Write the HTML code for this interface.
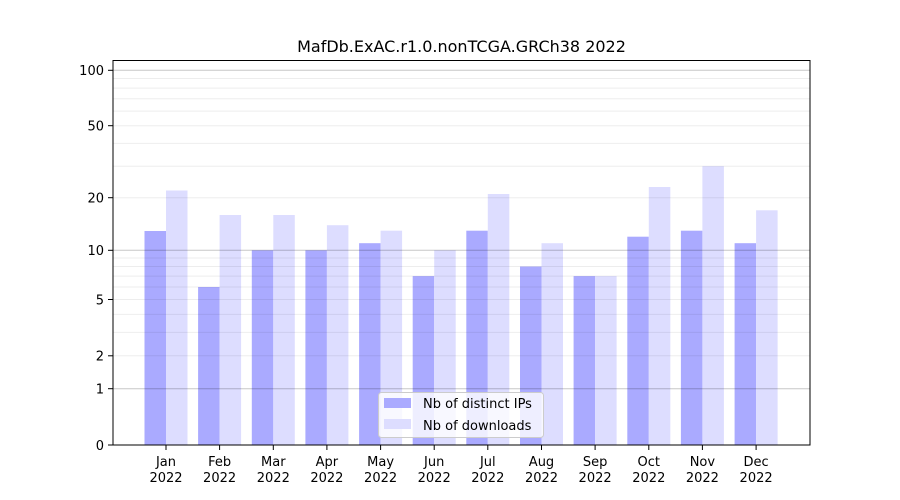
<!DOCTYPE html>
<html><head><meta charset="utf-8"><style>body{margin:0;background:#fff}svg{display:block}text{font-family:"DejaVu Sans","Liberation Sans",sans-serif;fill:#000}</style></head>
<body>
<svg width="900" height="500" viewBox="0 0 900 500" xmlns="http://www.w3.org/2000/svg">
<rect width="900" height="500" fill="#fff"/>
<text x="461.5" y="52" font-size="16" text-anchor="middle">MafDb.ExAC.r1.0.nonTCGA.GRCh38 2022</text>
<!-- bars -->
<g>
<rect x="144.5" y="231" width="21.5" height="214" fill="#aaaaff"/><rect x="166" y="190.5" width="21.5" height="254.5" fill="#ddddff"/>
<rect x="198.1" y="287" width="21.5" height="158" fill="#aaaaff"/><rect x="219.6" y="215" width="21.5" height="230" fill="#ddddff"/>
<rect x="251.8" y="250.3" width="21.5" height="194.7" fill="#aaaaff"/><rect x="273.3" y="215" width="21.5" height="230" fill="#ddddff"/>
<rect x="305.4" y="250.3" width="21.5" height="194.7" fill="#aaaaff"/><rect x="326.9" y="225.2" width="21.5" height="219.8" fill="#ddddff"/>
<rect x="359.1" y="243.2" width="21.5" height="201.8" fill="#aaaaff"/><rect x="380.6" y="230.7" width="21.5" height="214.3" fill="#ddddff"/>
<rect x="412.7" y="276.1" width="21.5" height="168.9" fill="#aaaaff"/><rect x="434.2" y="250.3" width="21.5" height="194.7" fill="#ddddff"/>
<rect x="466.3" y="230.7" width="21.5" height="214.3" fill="#aaaaff"/><rect x="487.8" y="194" width="21.5" height="251" fill="#ddddff"/>
<rect x="520" y="266.5" width="21.5" height="178.5" fill="#aaaaff"/><rect x="541.5" y="243.2" width="21.5" height="201.8" fill="#ddddff"/>
<rect x="573.6" y="276.1" width="21.5" height="168.9" fill="#aaaaff"/><rect x="595.1" y="276.1" width="21.5" height="168.9" fill="#ddddff"/>
<rect x="627.3" y="236.7" width="21.5" height="208.3" fill="#aaaaff"/><rect x="648.8" y="187" width="21.5" height="258" fill="#ddddff"/>
<rect x="680.9" y="230.7" width="21.5" height="214.3" fill="#aaaaff"/><rect x="702.4" y="166.2" width="21.5" height="278.8" fill="#ddddff"/>
<rect x="734.6" y="243.2" width="21.5" height="201.8" fill="#aaaaff"/><rect x="756.1" y="210.3" width="21.5" height="234.7" fill="#ddddff"/>
</g>
<!-- grid -->
<g stroke="#000" stroke-opacity="0.07" stroke-width="1">
<line x1="113" x2="810" y1="355.8" y2="355.8"/><line x1="113" x2="810" y1="332.4" y2="332.4"/><line x1="113" x2="810" y1="314.4" y2="314.4"/><line x1="113" x2="810" y1="299.5" y2="299.5"/><line x1="113" x2="810" y1="287" y2="287"/><line x1="113" x2="810" y1="276.1" y2="276.1"/><line x1="113" x2="810" y1="266.5" y2="266.5"/><line x1="113" x2="810" y1="258" y2="258"/>
<line x1="113" x2="810" y1="197.7" y2="197.7"/><line x1="113" x2="810" y1="166.2" y2="166.2"/><line x1="113" x2="810" y1="143.4" y2="143.4"/><line x1="113" x2="810" y1="125.7" y2="125.7"/><line x1="113" x2="810" y1="111.1" y2="111.1"/><line x1="113" x2="810" y1="98.7" y2="98.7"/><line x1="113" x2="810" y1="88.1" y2="88.1"/><line x1="113" x2="810" y1="78.5" y2="78.5"/>
</g>
<g stroke="#000" stroke-opacity="0.22" stroke-width="1">
<line x1="113" x2="810" y1="388.7" y2="388.7"/><line x1="113" x2="810" y1="250.3" y2="250.3"/><line x1="113" x2="810" y1="70.3" y2="70.3"/>
</g>
<rect x="113" y="60.5" width="697" height="384.5" fill="none" stroke="#000" stroke-width="1"/>
<!-- y ticks -->
<g stroke="#000"><line x1="108" x2="113" y1="445" y2="445"/><line x1="108" x2="113" y1="388.7" y2="388.7"/><line x1="108" x2="113" y1="355.8" y2="355.8"/><line x1="108" x2="113" y1="299.5" y2="299.5"/><line x1="108" x2="113" y1="250.3" y2="250.3"/><line x1="108" x2="113" y1="197.7" y2="197.7"/><line x1="108" x2="113" y1="125.7" y2="125.7"/><line x1="108" x2="113" y1="70.3" y2="70.3"/></g>
<g font-size="13" text-anchor="end"><text x="104" y="450">0</text><text x="104" y="393.5">1</text><text x="104" y="360.5">2</text><text x="104" y="304.5">5</text><text x="104" y="255">10</text><text x="104" y="202.5">20</text><text x="104" y="130.5">50</text><text x="104" y="75">100</text></g>
<!-- x ticks -->
<g stroke="#000"><line x1="166" x2="166" y1="445" y2="450"/><line x1="219.6" x2="219.6" y1="445" y2="450"/><line x1="273.3" x2="273.3" y1="445" y2="450"/><line x1="326.9" x2="326.9" y1="445" y2="450"/><line x1="380.6" x2="380.6" y1="445" y2="450"/><line x1="434.2" x2="434.2" y1="445" y2="450"/><line x1="487.8" x2="487.8" y1="445" y2="450"/><line x1="541.5" x2="541.5" y1="445" y2="450"/><line x1="595.1" x2="595.1" y1="445" y2="450"/><line x1="648.8" x2="648.8" y1="445" y2="450"/><line x1="702.4" x2="702.4" y1="445" y2="450"/><line x1="756.1" x2="756.1" y1="445" y2="450"/></g>
<g font-size="13" text-anchor="middle">
<text x="166" y="466">Jan</text><text x="166" y="482">2022</text>
<text x="219.6" y="466">Feb</text><text x="219.6" y="482">2022</text>
<text x="273.3" y="466">Mar</text><text x="273.3" y="482">2022</text>
<text x="326.9" y="466">Apr</text><text x="326.9" y="482">2022</text>
<text x="380.6" y="466">May</text><text x="380.6" y="482">2022</text>
<text x="434.2" y="466">Jun</text><text x="434.2" y="482">2022</text>
<text x="487.8" y="466">Jul</text><text x="487.8" y="482">2022</text>
<text x="541.5" y="466">Aug</text><text x="541.5" y="482">2022</text>
<text x="595.1" y="466">Sep</text><text x="595.1" y="482">2022</text>
<text x="648.8" y="466">Oct</text><text x="648.8" y="482">2022</text>
<text x="702.4" y="466">Nov</text><text x="702.4" y="482">2022</text>
<text x="756.1" y="466">Dec</text><text x="756.1" y="482">2022</text>
</g>
<!-- legend -->
<rect x="378.5" y="392.5" width="165" height="45" rx="3" fill="#fff" fill-opacity="0.8" stroke="#ccc"/>
<rect x="384" y="398" width="27" height="10" fill="#aaaaff"/>
<rect x="384" y="419" width="27" height="10" fill="#ddddff"/>
<g font-size="13"><text x="423" y="408">Nb of distinct IPs</text><text x="423" y="430">Nb of downloads</text></g>
</svg>
</body></html>
